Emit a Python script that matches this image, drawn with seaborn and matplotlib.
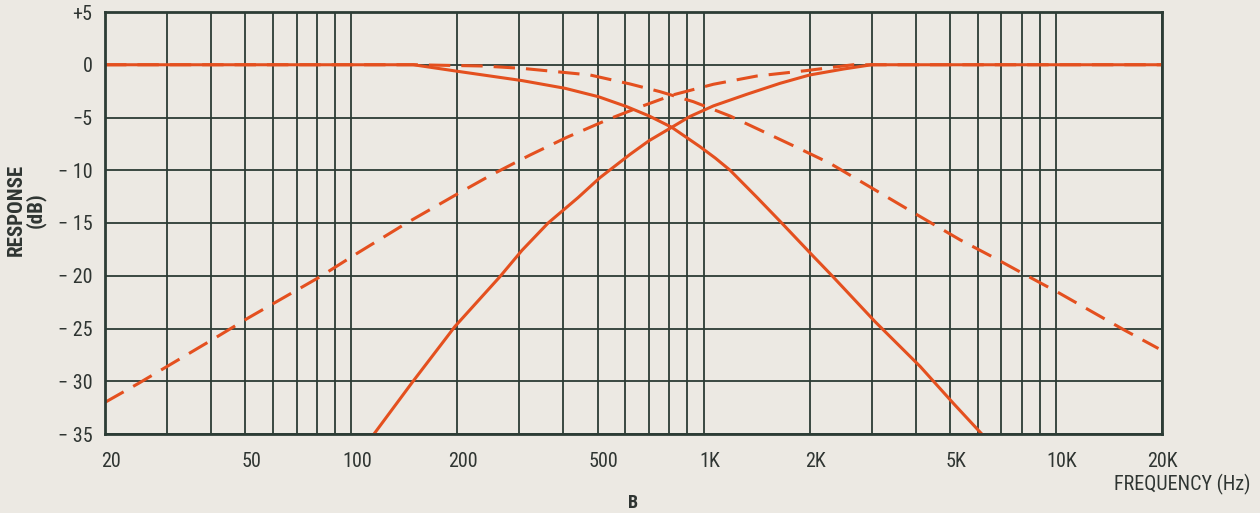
import matplotlib
matplotlib.use("Agg")
import matplotlib.pyplot as plt
import matplotlib.transforms as mtransforms
from matplotlib import font_manager
import seaborn as sns
import pandas as pd
from matplotlib.ticker import FixedLocator, NullLocator, NullFormatter

# ---- data ----
lp_solid_f = [20, 150, 204, 305, 404, 503, 605, 700, 812, 977, 1080, 1189, 1420, 1666, 2027, 2315, 3066, 4118, 5117, 6160]
lp_solid_db = [0, 0, -0.66, -1.5, -2.23, -3.03, -3.97, -4.85, -5.93, -7.77, -8.85, -10.0, -12.6, -15.0, -18.0, -20.0, -24.35, -28.6, -32.1, -35.0]

hp_solid_f = [116, 149, 197, 264, 305, 362, 440, 508, 618, 700, 812, 915, 1066, 1326, 1648, 2000, 2500, 3000, 20000]
hp_solid_db = [-35.0, -30.1, -24.8, -20.1, -17.6, -15.0, -12.6, -10.7, -8.5, -7.2, -5.93, -4.9, -3.9, -2.8, -1.76, -0.97, -0.4, 0, 0]

lp_dash_f = [20, 150, 237, 305, 383, 476, 618, 752, 935, 1189, 1478, 1838, 2286, 2904, 4027, 5347, 6640, 8177, 10165, 15543, 19543]
lp_dash_db = [0, 0, -0.12, -0.34, -0.66, -0.97, -1.82, -2.55, -3.5, -4.86, -6.34, -7.83, -9.35, -11.4, -14.2, -16.6, -18.25, -19.9, -21.6, -25.1, -26.9]

hp_dash_f = [20, 24.9, 40.6, 51, 81.5, 103.6, 143.6, 203.6, 248, 295, 322, 409, 446, 543, 660, 820, 1066, 1415, 1962, 2655, 20000]
hp_dash_db = [-32.0, -30.2, -26.0, -24.0, -20.1, -17.9, -15.0, -12.1, -10.5, -9.2, -8.55, -6.88, -6.34, -5.1, -4.0, -2.85, -1.85, -1.07, -0.55, 0, 0]

x_ticks = [20, 50, 100, 200, 500, 1000, 2000, 5000, 10000, 20000]
x_tick_labels = ["20", "50", "100", "200", "500", "1K", "2K", "5K", "10K", "20K"]
y_ticks = [5, 0, -5, -10, -15, -20, -25, -30, -35]
y_tick_labels = ["+5", "0", "\u22125", "\u2212 10", "\u2212 15", "\u2212 20", "\u2212 25", "\u2212 30", "\u2212 35"]
grid_x = [20, 30, 40, 50, 60, 70, 80, 90, 100, 200, 300, 400, 500, 600, 700, 800, 900,
          1000, 2000, 3000, 4000, 5000, 6000, 7000, 8000, 9000, 10000, 20000]

# ---- style ----
PAPER = "#ECE9E3"
GRID = "#2C3C35"
CURVE = "#E4501F"
TEXT = "#2F3532"

sns.set_theme(style="white")

# pick a condensed sans if one is installed
names = sorted({f.name for f in font_manager.fontManager.ttflist})
cond = None
for cand in ["Liberation Sans Narrow", "DejaVu Sans Condensed", "Roboto Condensed",
             "Open Sans Condensed", "Noto Sans Condensed", "Arial Narrow"]:
    if cand in names:
        cond = cand
        break
if cond is None:
    for n in names:
        if "Narrow" in n or "Condensed" in n:
            cond = n
            break
FAM = [cond, "DejaVu Sans"] if cond else ["Liberation Sans", "DejaVu Sans"]
plt.rcParams["font.family"] = FAM
STRETCH = "normal" if cond else "condensed"

fig = plt.figure(figsize=(12.6, 5.13), dpi=100, facecolor=PAPER)
ax = fig.add_axes([105 / 1260, 1 - 434 / 513, (1162 - 105) / 1260, (434 - 12) / 513])
ax.set_facecolor(PAPER)
ax.set_xscale("log")
ax.set_xlim(20, 20000)
ax.set_ylim(-35, 5)

for gx in grid_x:
    ax.axvline(gx, color=GRID, lw=1.3, zorder=1)
for gy in y_ticks:
    ax.axhline(gy, color=GRID, lw=1.3, zorder=1)

curves = [
    (lp_solid_f, lp_solid_db, "-"),
    (hp_solid_f, hp_solid_db, "-"),
    (lp_dash_f, lp_dash_db, "--"),
    (hp_dash_f, hp_dash_db, "--"),
]
for f, db, ls in curves:
    df = pd.DataFrame({"f": f, "db": db})
    sns.lineplot(data=df, x="f", y="db", ax=ax, color=CURVE, lw=2.2,
                 sort=False, estimator=None, zorder=3)
    l = ax.lines[-1]
    if ls == "--":
        l.set_dashes((7, 3.6))
    l.set_solid_capstyle("butt")
    l.set_solid_joinstyle("round")

for sp in ax.spines.values():
    sp.set_visible(True)
    sp.set_color(GRID)
    sp.set_linewidth(2.0)
    sp.set_zorder(4)

ax.xaxis.set_major_locator(FixedLocator(x_ticks))
ax.xaxis.set_minor_locator(NullLocator())
ax.xaxis.set_minor_formatter(NullFormatter())
ax.set_xticks(x_ticks)
ax.set_xticklabels(x_tick_labels)
ax.set_yticks(y_ticks)
ax.set_yticklabels(y_tick_labels)
ax.tick_params(axis="both", length=0, labelsize=14.5, labelcolor=TEXT)
ax.tick_params(axis="x", pad=13)
ax.tick_params(axis="y", pad=9)
ax.set_xlabel("")
ax.set_ylabel("")

for lab in ax.get_xticklabels() + ax.get_yticklabels():
    lab.set_fontstretch(STRETCH)

for i, lab in enumerate(ax.get_xticklabels()):
    if i < len(x_ticks) - 1:
        off = mtransforms.ScaledTranslation(6 / 100, 0, fig.dpi_scale_trans)
        lab.set_transform(lab.get_transform() + off)

fig.text(1250 / 1260, 1 - 484 / 513, "FREQUENCY (Hz)", ha="right", va="center",
         fontsize=14.5, color=TEXT, fontstretch=STRETCH)
fig.text(633 / 1260, 1 - 503 / 513, "B", ha="center", va="center",
         fontsize=13, color=TEXT, fontweight="bold", fontstretch=STRETCH)
fig.text(26 / 1260, 1 - 210 / 513, "RESPONSE\n(dB)", ha="center", va="center",
         rotation=90, fontsize=15, color=TEXT, fontweight="bold", fontstretch=STRETCH,
         multialignment="center", linespacing=0.95)

fig.savefig("out.png", dpi=100, facecolor=PAPER)
